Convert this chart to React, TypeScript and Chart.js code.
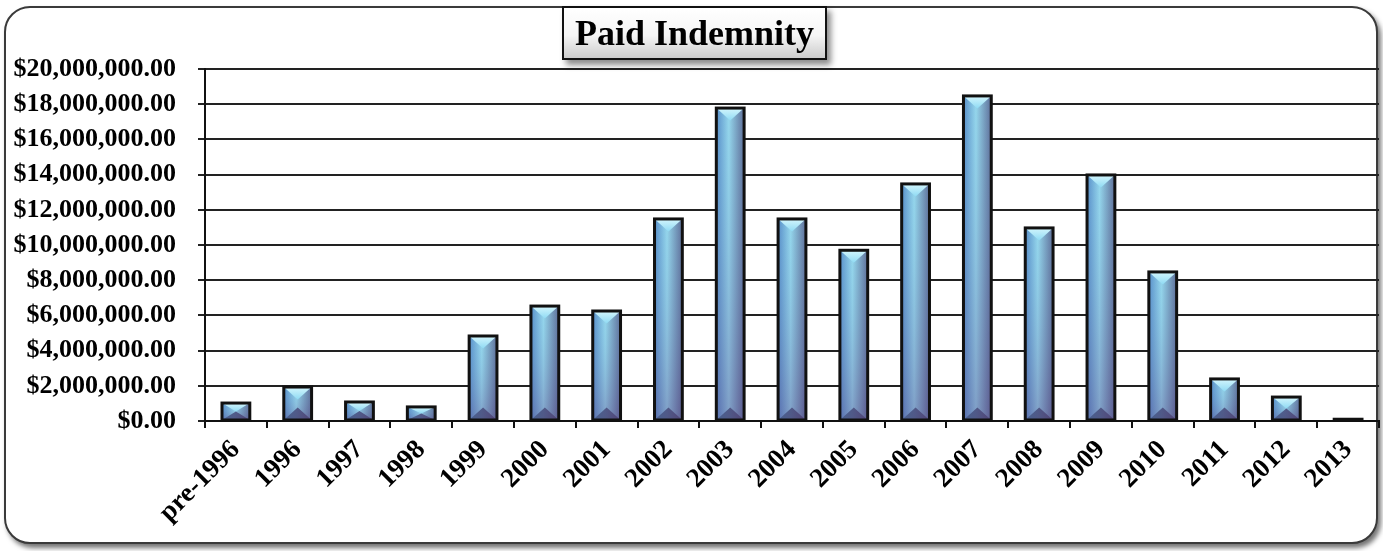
import React, { useEffect, useRef } from "react";
import { Chart, registerables } from "chart.js";

Chart.register(...registerables);

const categories = ["pre-1996", "1996", "1997", "1998", "1999", "2000", "2001", "2002", "2003", "2004", "2005", "2006", "2007", "2008", "2009", "2010", "2011", "2012", "2013"];
const paidIndemnity = [1020000, 1930000, 1080000, 800000, 4830000, 6530000, 6250000, 11480000, 17780000, 11480000, 9700000, 13470000, 18470000, 10970000, 13980000, 8470000, 2390000, 1360000, 100000];
const yTickStep = 2000000;
const yMax = 20000000;
const titleText = "Paid Indemnity";

const bevelBars = {
  id: "bevelBars",
  afterDatasetsDraw(chart: any) {
    const ctx = chart.ctx;
    const meta = chart.getDatasetMeta(0);
    meta.data.forEach((bar: any) => {
      const { x, y, base, width } = bar.getProps(["x", "y", "base", "width"], true);
      const l = x - width / 2;
      const r = x + width / 2;
      const t = Math.min(y, base);
      const b = Math.max(y, base);
      const h = b - t;
      if (h <= 0) return;
      ctx.save();
      const g = ctx.createLinearGradient(l, 0, r, 0);
      g.addColorStop(0, "#5589c6");
      g.addColorStop(0.45, "#98d8ec");
      g.addColorStop(1, "#5c6590");
      ctx.fillStyle = g;
      ctx.fillRect(l, t, width, h);
      const vg = ctx.createLinearGradient(0, t, 0, b);
      vg.addColorStop(0, "rgba(120,200,235,0.1)");
      vg.addColorStop(1, "rgba(90,70,140,0.4)");
      ctx.fillStyle = vg;
      ctx.fillRect(l, t, width, h);
      const bv = Math.min(width * 0.45, h / 2);
      // top triangle
      const tg = ctx.createLinearGradient(0, t, 0, t + bv);
      tg.addColorStop(0, "#d4f6fd");
      tg.addColorStop(1, "#8fdaf3");
      ctx.fillStyle = tg;
      ctx.beginPath();
      ctx.moveTo(l, t);
      ctx.lineTo(r, t);
      ctx.lineTo(x, t + bv);
      ctx.closePath();
      ctx.fill();
      // bottom triangle
      const bg = ctx.createLinearGradient(l, 0, r, 0);
      bg.addColorStop(0, "rgba(70,95,140,0.9)");
      bg.addColorStop(1, "rgba(80,65,115,0.9)");
      ctx.fillStyle = bg;
      ctx.beginPath();
      ctx.moveTo(l, b);
      ctx.lineTo(r, b);
      ctx.lineTo(x, b - bv);
      ctx.closePath();
      ctx.fill();
      ctx.lineWidth = 3;
      ctx.strokeStyle = "#111";
      ctx.strokeRect(l, t, width, h);
      ctx.restore();
    });
  },
};

export default function App() {
  const ref = useRef<HTMLCanvasElement>(null);
  useEffect(() => {
    if (!ref.current) return;
    const chart = new Chart(ref.current, {
      type: "bar",
      data: {
        labels: categories,
        datasets: [
          {
            label: titleText,
            data: paidIndemnity,
            backgroundColor: "rgba(0,0,0,0)",
            borderWidth: 0,
            barPercentage: 0.45,
            categoryPercentage: 1,
          },
        ],
      },
      options: {
        responsive: false,
        animation: false,
        layout: { padding: { top: 69, left: 0, right: 4, bottom: 0 } },
        plugins: { legend: { display: false }, tooltip: { enabled: false }, title: { display: false } },
        scales: {
          x: {
            offset: true,
            afterFit: (s: any) => { s.height = 130; },
            grid: { drawOnChartArea: false, drawTicks: true, tickLength: 7, offset: true, color: "#111", lineWidth: 2 },
            border: { display: true, color: "#111", width: 2 },
            ticks: {
              minRotation: 45,
              maxRotation: 45,
              padding: 6,
              color: "#000",
              font: { family: "'Liberation Serif', 'Times New Roman', serif", weight: "bold", size: 27 },
            },
          },
          y: {
            min: 0,
            max: yMax,
            afterFit: (s: any) => { s.width = 205; },
            grid: { color: "#222", lineWidth: 2, tickLength: 7, drawTicks: true },
            border: { display: true, color: "#111", width: 2 },
            ticks: {
              stepSize: yTickStep,
              padding: 22,
              color: "#000",
              font: { family: "'Liberation Serif', 'Times New Roman', serif", weight: "bold", size: 26 },
              callback: (v: any) => "$" + Number(v).toLocaleString("en-US", { minimumFractionDigits: 2, maximumFractionDigits: 2 }),
            },
          },
        },
      },
      plugins: [bevelBars],
    } as any);
    return () => chart.destroy();
  }, []);

  return (
    <div style={{ position: "absolute", left: 0, top: 0, width: 1383, height: 551, background: "#fff", overflow: "hidden" }}>
      <div
        style={{
          position: "absolute",
          left: 4,
          top: 6,
          width: 1374,
          height: 538,
          boxSizing: "border-box",
          border: "2px solid #3a3a3a",
          borderRadius: 26,
          boxShadow: "3px 4px 5px rgba(0,0,0,0.55)",
          background: "#fff",
        }}
      />
      <canvas ref={ref} width={1383} height={551} style={{ position: "absolute", left: 0, top: 0 }} />
      <div
        style={{
          position: "absolute",
          left: 562,
          top: 6,
          width: 265,
          height: 54,
          boxSizing: "border-box",
          border: "2px solid #111",
          background: "linear-gradient(#ffffff 0%, #f5f5f5 55%, #cccccc 100%)",
          boxShadow: "4px 5px 6px rgba(0,0,0,0.45)",
          display: "flex",
          alignItems: "center",
          justifyContent: "center",
          fontFamily: "'Liberation Serif', 'Times New Roman', serif",
          fontWeight: "bold",
          fontSize: 36,
          color: "#000",
          lineHeight: 1,
        }}
      >
        {titleText}
      </div>
    </div>
  );
}
